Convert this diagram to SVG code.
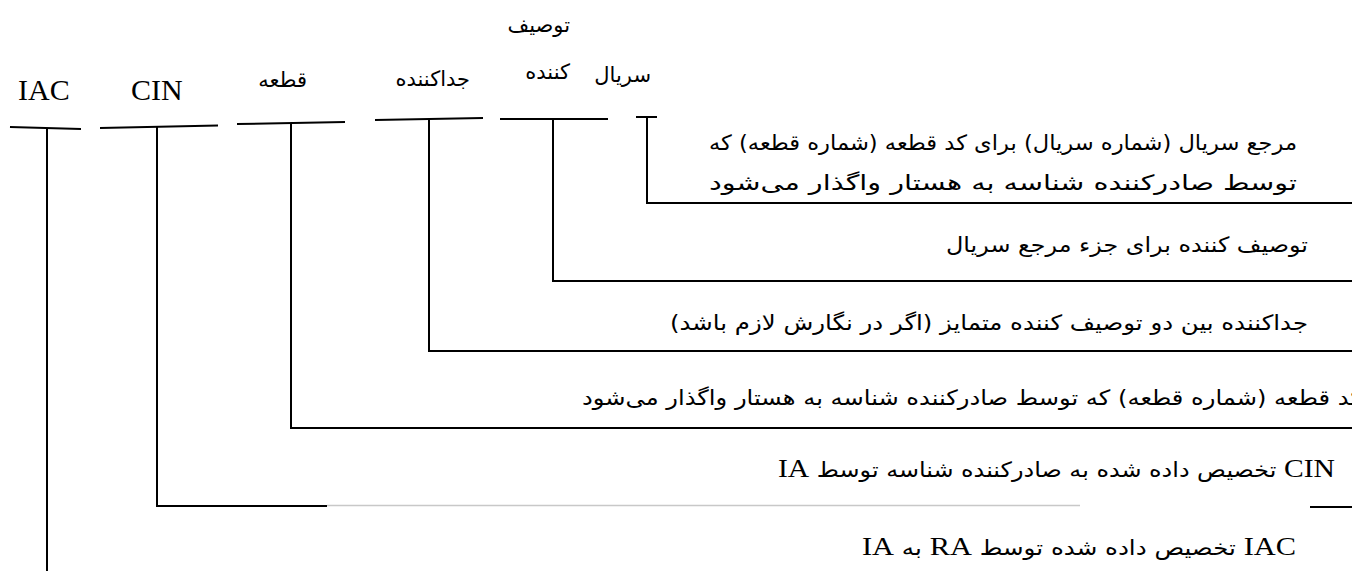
<svg xmlns="http://www.w3.org/2000/svg" width="1352" height="571" viewBox="0 0 1352 571">
<style>
.ln{stroke:#000;stroke-width:2;fill:none}
.lt{stroke:#c8c8c8;stroke-width:1.5;fill:none}
.lat{font-family:"Liberation Serif",serif;font-size:30px;fill:#000}
.latb{font-family:"Liberation Serif",serif;font-size:26px}
.ar{font-family:"DejaVu Sans",sans-serif;font-size:21px;fill:#000}
.rtl{direction:rtl;unicode-bidi:embed}
</style>
<rect width="1352" height="571" fill="#fff"/>
<g id="node-iac">
<text class="lat" x="18" y="100">IAC</text>
<path class="ln" d="M10 127 L81 129"/>
</g>
<g id="node-cin">
<text class="lat" x="131" y="100">CIN</text>
<path class="ln" d="M100 128 L218 125.5"/>
</g>
<g id="node-part">
<text class="ar rtl" x="307" y="87">قطعه</text>
<path class="ln" d="M237 124 L345 122"/>
</g>
<g id="node-sep">
<text class="ar rtl" x="470" y="86">جداکننده</text>
<path class="ln" d="M375 120 L483 118"/>
</g>
<g id="node-desc">
<text class="ar rtl" x="570" y="32">توصیف</text>
<text class="ar rtl" x="570" y="79">کننده</text>
<path class="ln" d="M500 119 L608 119"/>
</g>
<g id="node-serial">
<text class="ar rtl" x="651" y="82">سریال</text>
<path class="ln" d="M636 117 L657 117"/>
</g>
<g id="connectors">
<path class="ln" d="M647 117 V203 H1352"/>
<path class="ln" d="M553 119 V281 H1352"/>
<path class="ln" d="M429 119 V351 H1352"/>
<path class="ln" d="M291 123 V428 H1352"/>
<path class="ln" d="M157 127 V506 H327"/>
<path class="lt" d="M327 505.5 H1080"/>
<path class="ln" d="M1310 507 H1352"/>
<path class="ln" d="M47 128 V571"/>
</g>
<g id="labels">
<text class="ar rtl" x="1297" y="150" textLength="588" lengthAdjust="spacingAndGlyphs">مرجع سریال (شماره سریال) برای کد قطعه (شماره قطعه) که</text>
<text class="ar rtl" x="1297" y="190" textLength="588" lengthAdjust="spacingAndGlyphs">توسط صادرکننده شناسه به هستار واگذار می‌شود</text>
<text class="ar rtl" x="1308" y="252" textLength="362" lengthAdjust="spacingAndGlyphs">توصیف کننده برای جزء مرجع سریال</text>
<text class="ar rtl" x="1308" y="330" textLength="638" lengthAdjust="spacingAndGlyphs">جداکننده بین دو توصیف کننده متمایز (اگر در نگارش لازم باشد)</text>
<text class="ar rtl" x="1362" y="405" textLength="780" lengthAdjust="spacingAndGlyphs">کد قطعه (شماره قطعه) که توسط صادرکننده شناسه به هستار واگذار می‌شود</text>
<text class="ar rtl" x="1335" y="477" textLength="557" lengthAdjust="spacingAndGlyphs"><tspan class="latb">CIN</tspan> تخصیص داده شده به صادرکننده شناسه توسط <tspan class="latb">IA</tspan></text>
<text class="ar rtl" x="1296" y="555" textLength="434" lengthAdjust="spacingAndGlyphs"><tspan class="latb">IAC</tspan> تخصیص داده شده توسط <tspan class="latb">RA</tspan> به <tspan class="latb">IA</tspan></text>
</g>
</svg>
